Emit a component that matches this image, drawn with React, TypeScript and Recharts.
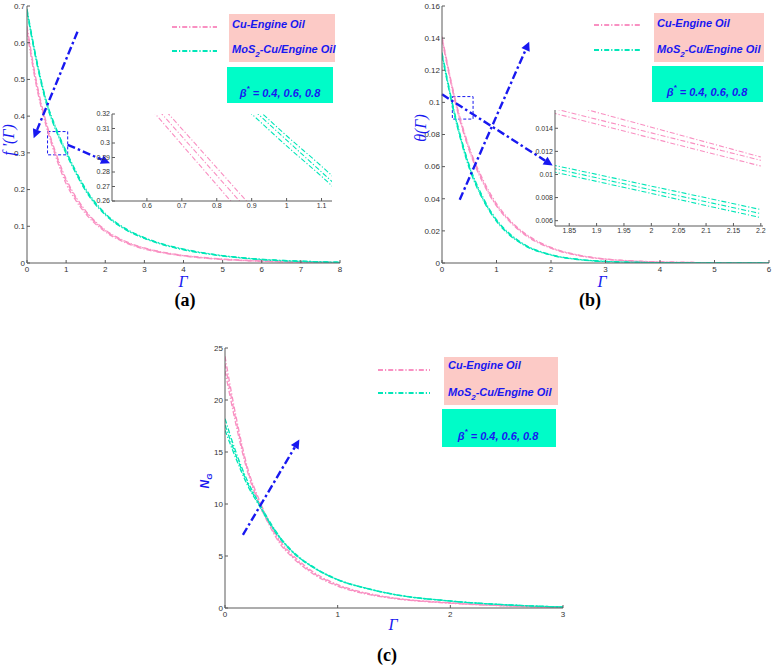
import React from 'react';
import { CartesianGrid, Line, LineChart, ReferenceArea, ReferenceLine, XAxis, YAxis } from 'recharts';

const PINK = '#f990c2';
const GREEN = '#00e6b8';
const BLUE = '#1818f0';
const AXIS = '#5a5a5a';
const DASH = '5 2 1.2 2';

// (a) f'(Γ)
const gammaA = [0, 0.25, 0.5, 0.75, 1, 1.25, 1.5, 2, 2.5, 3, 3.5, 4, 5, 6, 7, 8];
const cuA1 = [0.645, 0.49, 0.38, 0.296, 0.229, 0.18, 0.142, 0.09, 0.06, 0.041, 0.029, 0.021, 0.011, 0.0055, 0.0027, 0.001];
const cuA2 = [0.638, 0.484, 0.375, 0.291, 0.224, 0.176, 0.139, 0.088, 0.058, 0.04, 0.028, 0.02, 0.01, 0.005, 0.0025, 0.001];
const cuA3 = [0.63, 0.477, 0.369, 0.285, 0.216, 0.17, 0.134, 0.085, 0.056, 0.038, 0.027, 0.019, 0.0095, 0.0048, 0.0024, 0.001];
const mosA1 = [0.692, 0.552, 0.44, 0.366, 0.305, 0.25, 0.202, 0.135, 0.095, 0.069, 0.051, 0.038, 0.02, 0.01, 0.005, 0.002];
const mosA2 = [0.688, 0.548, 0.436, 0.362, 0.302, 0.247, 0.199, 0.133, 0.093, 0.068, 0.05, 0.037, 0.02, 0.01, 0.005, 0.002];
const mosA3 = [0.684, 0.544, 0.432, 0.358, 0.298, 0.244, 0.196, 0.131, 0.092, 0.067, 0.049, 0.036, 0.019, 0.009, 0.004, 0.0015];
const xTicksA = [0, 1, 2, 3, 4, 5, 6, 7, 8];
const yTicksA = [0, 0.1, 0.2, 0.3, 0.4, 0.5, 0.6, 0.7];

// inset of (a)
const gammaAi = [0.5, 0.6, 0.7, 0.8, 0.9, 1.0, 1.1, 1.15];
const cuAi1 = [0.3636, 0.3367, 0.3098, 0.2829, 0.256, 0.229, 0.2022, 0.1887];
const cuAi2 = [0.3586, 0.3316, 0.3046, 0.2776, 0.2506, 0.2236, 0.1966, 0.1831];
const cuAi3 = [0.3545, 0.3267, 0.2989, 0.2711, 0.2433, 0.2155, 0.1877, 0.1738];
const mosAi1 = [0.414, 0.392, 0.371, 0.349, 0.327, 0.305, 0.284, 0.273];
const mosAi2 = [0.412, 0.39, 0.368, 0.346, 0.324, 0.302, 0.28, 0.269];
const mosAi3 = [0.407, 0.385, 0.363, 0.342, 0.32, 0.298, 0.277, 0.266];
const xTicksAi = [0.6, 0.7, 0.8, 0.9, 1, 1.1];
const yTicksAi = [0.26, 0.27, 0.28, 0.29, 0.3, 0.31, 0.32];

// (b) θ(Γ)
const gammaB = [0, 0.25, 0.5, 0.75, 1, 1.25, 1.5, 2, 2.5, 3, 3.5, 4, 5, 6];
const cuB1 = [0.141, 0.101, 0.072, 0.052, 0.037, 0.0265, 0.019, 0.0097, 0.005, 0.0025, 0.0013, 0.0007, 0.0002, 0.0001];
const cuB2 = [0.14, 0.1, 0.071, 0.051, 0.036, 0.026, 0.0185, 0.0094, 0.0048, 0.0024, 0.0012, 0.0006, 0.0002, 0.0001];
const cuB3 = [0.139, 0.099, 0.07, 0.05, 0.0355, 0.0255, 0.018, 0.0092, 0.0047, 0.0023, 0.0012, 0.0006, 0.0002, 0.0001];
const mosB1 = [0.131, 0.091, 0.061, 0.041, 0.027, 0.018, 0.0118, 0.0052, 0.0023, 0.001, 0.0005, 0.0002, 0.0001, 0];
const mosB2 = [0.13, 0.09, 0.06, 0.04, 0.0265, 0.0175, 0.0115, 0.005, 0.0022, 0.001, 0.0004, 0.0002, 0.0001, 0];
const mosB3 = [0.129, 0.089, 0.059, 0.0395, 0.026, 0.017, 0.0112, 0.0049, 0.0021, 0.0009, 0.0004, 0.0002, 0.0001, 0];
const xTicksB = [0, 1, 2, 3, 4, 5, 6];
const yTicksB = [0, 0.02, 0.04, 0.06, 0.08, 0.1, 0.12, 0.14, 0.16];

// inset of (b)
const gammaBi = [1.8, 1.9, 2.0, 2.1, 2.2];
const cuBi1 = [0.01667, 0.01538, 0.01409, 0.0128, 0.01151];
const cuBi2 = [0.01597, 0.01478, 0.0136, 0.01241, 0.01122];
const cuBi3 = [0.01557, 0.01436, 0.01315, 0.01194, 0.01073];
const mosBi1 = [0.01102, 0.01001, 0.00899, 0.00798, 0.00696];
const mosBi2 = [0.01074, 0.00971, 0.00867, 0.00764, 0.00661];
const mosBi3 = [0.01045, 0.0094, 0.00836, 0.00731, 0.00627];
const xTicksBi = [1.85, 1.9, 1.95, 2, 2.05, 2.1, 2.15, 2.2];
const yTicksBi = [0.006, 0.008, 0.01, 0.012, 0.014];

// (c) N_G
const gammaC = [0, 0.1, 0.2, 0.3, 0.4, 0.5, 0.6, 0.8, 1, 1.25, 1.5, 2, 2.5, 3];
const cuC1 = [24.2, 18.3, 13.5, 10.5, 8.1, 6.3, 5.1, 3.35, 2.25, 1.45, 0.97, 0.5, 0.22, 0.06];
const cuC2 = [23.5, 17.9, 13.3, 10.3, 7.95, 6.15, 4.95, 3.25, 2.18, 1.4, 0.94, 0.48, 0.21, 0.06];
const cuC3 = [22.8, 17.5, 13.1, 10.1, 7.8, 6.0, 4.85, 3.15, 2.1, 1.35, 0.9, 0.46, 0.2, 0.05];
const mosC1 = [18.2, 14.9, 12.2, 10.15, 8.25, 6.65, 5.45, 3.85, 2.75, 1.92, 1.32, 0.68, 0.31, 0.1];
const mosC2 = [17.6, 14.6, 12.0, 10.0, 8.15, 6.6, 5.4, 3.8, 2.72, 1.9, 1.3, 0.67, 0.3, 0.1];
const mosC3 = [17.1, 14.3, 11.8, 9.9, 8.05, 6.5, 5.35, 3.78, 2.7, 1.88, 1.29, 0.66, 0.3, 0.09];
const xTicksC = [0, 1, 2, 3];
const yTicksC = [0, 5, 10, 15, 20, 25];

// annotation arrows / zoom boxes, in data units
const arrowsA = [
  [{ x: 1.29, y: 0.63 }, { x: 0.17, y: 0.34 }],
  [{ x: 1.04, y: 0.322 }, { x: 2.12, y: 0.272 }],
];
const boxA = { x1: 0.525, x2: 1.04, y1: 0.2946, y2: 0.358 };
const arrowsB = [
  [{ x: 0.325, y: 0.0394 }, { x: 1.6, y: 0.1378 }],
  [{ x: 0, y: 0.105 }, { x: 2.03, y: 0.0607 }],
];
const boxB = { x1: 0.19, x2: 0.57, y1: 0.0896, y2: 0.1036 };
const arrowsC = [[{ x: 0.159, y: 7.03 }, { x: 0.66, y: 16.2 }]];

const seriesKeys = ['c1', 'c2', 'c3', 'm1', 'm2', 'm3'];

function table(xs: number[], cols: number[][]) {
  return xs.map((x, i) => {
    const row: Record<string, number> = { x };
    cols.forEach((c, j) => {
      row[seriesKeys[j]] = c[i];
    });
    return row;
  });
}

const dataA = table(gammaA, [cuA1, cuA2, cuA3, mosA1, mosA2, mosA3]);
const dataAi = table(gammaAi, [cuAi1, cuAi2, cuAi3, mosAi1, mosAi2, mosAi3]);
const dataB = table(gammaB, [cuB1, cuB2, cuB3, mosB1, mosB2, mosB3]);
const dataBi = table(gammaBi, [cuBi1, cuBi2, cuBi3, mosBi1, mosBi2, mosBi3]);
const dataC = table(gammaC, [cuC1, cuC2, cuC3, mosC1, mosC2, mosC3]);

function arrowShape(props: any) {
  const { x1, y1, x2, y2 } = props;
  const dx = x2 - x1;
  const dy = y2 - y1;
  const len = Math.hypot(dx, dy) || 1;
  const ux = dx / len;
  const uy = dy / len;
  const hl = 9;
  const hw = 4.5;
  const bx = x2 - ux * hl;
  const by = y2 - uy * hl;
  return (
    <g>
      <line x1={x1} y1={y1} x2={bx} y2={by} stroke={BLUE} strokeWidth={2.4} strokeDasharray="8 3 2.5 3" />
      <polygon points={`${x2},${y2} ${bx - uy * hw},${by + ux * hw} ${bx + uy * hw},${by - ux * hw}`} fill={BLUE} />
    </g>
  );
}

function seriesLines(width = 1.2) {
  return seriesKeys.map((k) => (
    <Line
      key={k}
      type="monotone"
      dataKey={k}
      stroke={k[0] === 'c' ? PINK : GREEN}
      strokeWidth={width}
      strokeDasharray={DASH}
      dot={false}
      isAnimationActive={false}
    />
  ));
}

const SANS = "'Liberation Sans', Arial, sans-serif";
const SERIF = "'Liberation Serif', 'Times New Roman', serif";
const tickStyle = { fontSize: 8, fill: '#333', fontFamily: SANS };
const insetTick = { fontSize: 7, fill: '#333', fontFamily: SANS };

function frameAxes(xDomain: number[], yDomain: number[], xTicks: number[], yTicks: number[]) {
  return [
    <XAxis key="xt" xAxisId="top" orientation="top" type="number" domain={xDomain} ticks={xTicks} tick={false} tickSize={-3} height={0} stroke={AXIS} allowDataOverflow />,
    <YAxis key="yr" yAxisId="right" orientation="right" type="number" domain={yDomain} ticks={yTicks} tick={false} tickSize={-3} width={0} stroke={AXIS} allowDataOverflow />,
  ];
}

function Panel(props: {
  left: number; top: number; width: number; height: number;
  margin: any; yWidth: number; xHeight: number;
  data: any[]; xDomain: number[]; yDomain: number[]; xTicks: number[]; yTicks: number[];
  arrows: any[]; box?: any; inset?: boolean;
}) {
  const p = props;
  return (
    <div style={{ position: 'absolute', left: p.left, top: p.top }}>
      <LineChart width={p.width} height={p.height} data={p.data} margin={p.margin}>
        {p.inset && <CartesianGrid fill="#fff" horizontal={false} vertical={false} />}
        <XAxis
          dataKey="x"
          type="number"
          domain={p.xDomain}
          ticks={p.xTicks}
          allowDataOverflow
          height={p.xHeight}
          stroke={AXIS}
          tickSize={-3}
          tickMargin={p.inset ? 5 : 6}
          tick={p.inset ? insetTick : tickStyle}
        />
        <YAxis
          type="number"
          domain={p.yDomain}
          ticks={p.yTicks}
          allowDataOverflow
          width={p.yWidth}
          stroke={AXIS}
          tickSize={-3}
          tickMargin={5}
          tick={p.inset ? insetTick : tickStyle}
        />
        {frameAxes(p.xDomain, p.yDomain, p.xTicks, p.yTicks)}
        {seriesLines(p.inset ? 1.1 : 1.3)}
        {p.box && (
          <ReferenceArea
            x1={p.box.x1}
            x2={p.box.x2}
            y1={p.box.y1}
            y2={p.box.y2}
            fill="none"
            stroke={BLUE}
            strokeWidth={1}
            strokeDasharray="3 2"
            ifOverflow="visible"
          />
        )}
        {p.arrows.map((seg, i) => (
          <ReferenceLine key={i} segment={seg} shape={arrowShape} ifOverflow="visible" />
        ))}
      </LineChart>
    </div>
  );
}

function Legend(props: { lx1: number; lx2: number; ly1: number; ly2: number; px: number; py: number; pw: number; ph: number; gx: number; gy: number; gw: number; gh: number; tx: number; b1: number; b2: number; bx: number; bb: number }) {
  const p = props;
  const tStyle = { fontFamily: SANS, fontStyle: 'italic', fontWeight: 700, fontSize: 11, fill: BLUE } as const;
  return (
    <g>
      <line x1={p.lx1} x2={p.lx2} y1={p.ly1} y2={p.ly1} stroke={PINK} strokeWidth={2} strokeDasharray={DASH} />
      <line x1={p.lx1} x2={p.lx2} y1={p.ly2} y2={p.ly2} stroke={GREEN} strokeWidth={2} strokeDasharray={DASH} />
      <rect x={p.px} y={p.py} width={p.pw} height={p.ph} fill="#fccac6" />
      <rect x={p.gx} y={p.gy} width={p.gw} height={p.gh} fill="#00fcc8" />
      <text x={p.tx} y={p.b1} style={tStyle}>Cu-Engine Oil</text>
      <text x={p.tx} y={p.b2} style={tStyle}>
        MoS<tspan dy={4} fontSize={8}>2</tspan><tspan dy={-4}>-Cu/Engine Oil</tspan>
      </text>
      <text x={p.bx} y={p.bb} textAnchor="middle" style={tStyle}>
        β<tspan dy={-6} fontSize={8}>*</tspan><tspan dy={6}> = 0.4, 0.6, 0.8</tspan>
      </text>
    </g>
  );
}

export default function App() {
  const axisLbl = { fontFamily: SERIF, fontStyle: 'italic', fontSize: 16, fill: BLUE } as const;
  const panelLbl = { fontFamily: SERIF, fontWeight: 700, fontSize: 18, fill: '#000' } as const;
  return (
    <div style={{ position: 'absolute', left: 0, top: 0, width: 773, height: 665, background: '#fff', overflow: 'hidden' }}>
      <Panel
        left={0} top={0} width={345} height={290}
        margin={{ top: 6, right: 5, bottom: 0, left: 0 }} yWidth={27} xHeight={27}
        data={dataA} xDomain={[0, 8]} yDomain={[0, 0.7]} xTicks={xTicksA} yTicks={yTicksA}
        arrows={arrowsA} box={boxA}
      />
      <Panel
        left={85} top={108} width={250} height={107}
        margin={{ top: 6, right: 3, bottom: 0, left: 0 }} yWidth={27} xHeight={14}
        data={dataAi} xDomain={[0.5, 1.13]} yDomain={[0.26, 0.32]} xTicks={xTicksAi} yTicks={yTicksAi}
        arrows={[]} inset
      />
      <Panel
        left={400} top={0} width={373} height={290}
        margin={{ top: 6, right: 4, bottom: 0, left: 0 }} yWidth={42} xHeight={27}
        data={dataB} xDomain={[0, 6]} yDomain={[0, 0.16]} xTicks={xTicksB} yTicks={yTicksB}
        arrows={arrowsB} box={boxB}
      />
      <Panel
        left={520} top={104} width={246} height={136}
        margin={{ top: 6, right: 3, bottom: 0, left: 0 }} yWidth={35} xHeight={14}
        data={dataBi} xDomain={[1.824, 2.204]} yDomain={[0.00554, 0.01558]} xTicks={xTicksBi} yTicks={yTicksBi}
        arrows={[]} inset
      />
      <Panel
        left={190} top={340} width={376} height={295}
        margin={{ top: 8, right: 3, bottom: 0, left: 0 }} yWidth={35} xHeight={27}
        data={dataC} xDomain={[0, 3]} yDomain={[0, 25]} xTicks={xTicksC} yTicks={yTicksC}
        arrows={arrowsC}
      />
      <svg width={773} height={665} style={{ position: 'absolute', left: 0, top: 0, pointerEvents: 'none' }}>
        <Legend lx1={172} lx2={217} ly1={27} ly2={51} px={229} py={14} pw={106} ph={48} gx={227} gy={67} gw={106} gh={36} tx={232} b1={28} b2={53} bx={280} bb={97} />
        <Legend lx1={594} lx2={640} ly1={25} ly2={50} px={654} py={13} pw={110} ph={49} gx={652} gy={66} gw={111} gh={36} tx={657} b1={27} b2={53} bx={707} bb={96} />
        <Legend lx1={378} lx2={430} ly1={370} ly2={393} px={444} py={357} pw={114} ph={48} gx={442} gy={409} gw={114} gh={38} tx={448} b1={369} b2={396} bx={498} bb={440} />

        <text x={183} y={287} textAnchor="middle" style={axisLbl}>Γ</text>
        <text x={602} y={287} textAnchor="middle" style={axisLbl}>Γ</text>
        <text x={393} y={630} textAnchor="middle" style={axisLbl}>Γ</text>

        <text transform="translate(14,140) rotate(-90)" textAnchor="middle" style={axisLbl}>f '(Γ)</text>
        <text transform="translate(426,128) rotate(-90)" textAnchor="middle" style={axisLbl}>θ(Γ)</text>
        <text transform="translate(209,481) rotate(-90)" textAnchor="middle" style={{ fontFamily: SANS, fontStyle: 'italic', fontWeight: 700, fontSize: 12, fill: BLUE }}>
          N<tspan dy={3} fontSize={8}>G</tspan>
        </text>

        <text x={185} y={306} textAnchor="middle" style={panelLbl}>(a)</text>
        <text x={590} y={306} textAnchor="middle" style={panelLbl}>(b)</text>
        <text x={387} y={661} textAnchor="middle" style={panelLbl}>(c)</text>
      </svg>
    </div>
  );
}
